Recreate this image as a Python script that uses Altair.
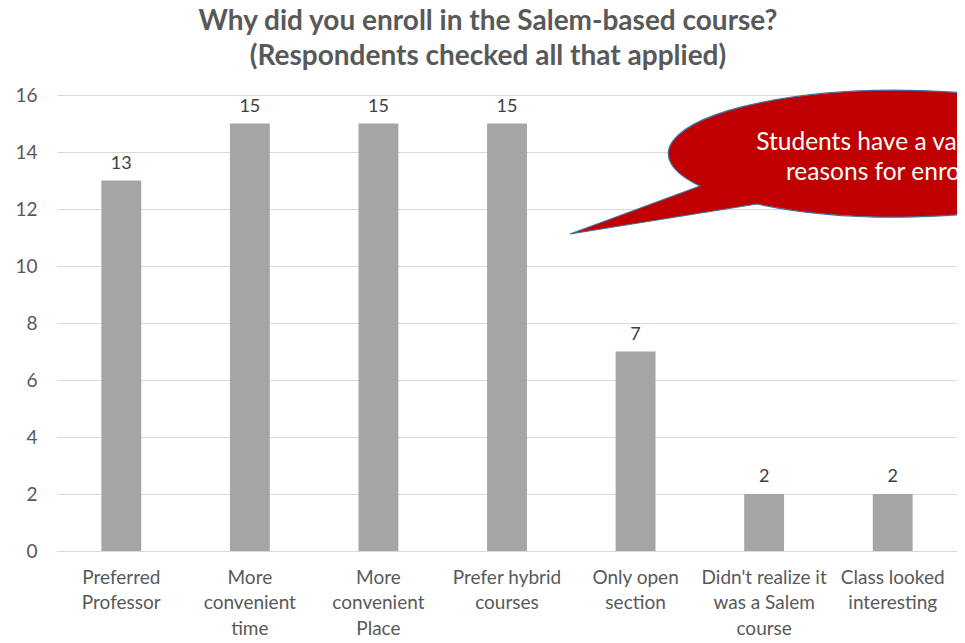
import altair as alt
import pandas as pd

categories = [
    "Preferred\nProfessor",
    "More\nconvenient\ntime",
    "More\nconvenient\nPlace",
    "Prefer hybrid\ncourses",
    "Only open\nsection",
    "Didn't realize it\nwas a Salem\ncourse",
    "Class looked\ninteresting",
]
counts = [13, 15, 15, 15, 7, 2, 2]
title_lines = ["Why did you enroll in the Salem-based course?", "(Respondents checked all that applied)"]
callout_lines = ["Students have a variety of", "reasons for enrolling"]
y_ticks = [0, 2, 4, 6, 8, 10, 12, 14, 16]

df = pd.DataFrame({"reason": categories, "count": counts})

W, H = 900, 456
FONT = "Lato"

x_scale = alt.Scale(paddingInner=0.69, paddingOuter=0.345)
y_scale = alt.Scale(domain=[0, 16], nice=False)

x_enc = alt.X(
    "reason:N",
    sort=categories,
    scale=x_scale,
    axis=alt.Axis(
        title=None,
        labelAngle=0,
        labelExpr="split(datum.label, '\\n')",
        labelFont=FONT,
        labelFontSize=19,
        labelColor="#595959",
        labelLineHeight=25.5,
        labelPadding=17,
        labelBaseline="top",
        ticks=False,
        domain=True,
        domainColor="#D9D9D9",
        domainWidth=1,
        grid=False,
    ),
)
y_enc = alt.Y(
    "count:Q",
    scale=y_scale,
    axis=alt.Axis(
        title=None,
        values=y_ticks,
        labelFont=FONT,
        labelFontSize=19,
        labelColor="#595959",
        labelPadding=20,
        ticks=False,
        domain=False,
        grid=True,
        gridColor="#D9D9D9",
        gridWidth=1,
    ),
)

base = alt.Chart(df)
bars = base.mark_bar(color="#A5A5A5").encode(x=x_enc, y=y_enc)
labels = base.mark_text(
    font=FONT, fontSize=18, color="#404040", baseline="alphabetic", dy=-12
).encode(x=x_enc, y=y_enc, text="count:Q")

# speech-bubble callout (annotation), path in pixels relative to its centre
bubble_path = (
    "M -195 32.5 L -325 80.5 L -138 50.5 "
    "A 227 63.5 0 1 0 -195 32.5 Z"
)
bubble = alt.Chart(pd.DataFrame({"k": [0]})).mark_point(
    shape=bubble_path, size=4, filled=True, fill="#C00000", opacity=1,
    stroke="#41719C", strokeWidth=1.2, strokeOpacity=1, fillOpacity=1,
).encode(x=alt.value(838), y=alt.value(58.5))
bubble_text = alt.Chart(pd.DataFrame({"k": [0]})).mark_text(
    font=FONT, fontSize=24.5, color="white", align="center", baseline="middle",
    lineHeight=30,
).encode(x=alt.value(838), y=alt.value(48), text=alt.value(callout_lines))

chart = (
    alt.layer(bars, labels, bubble, bubble_text)
    .properties(
        width=W,
        height=H,
        background="white",
        autosize=alt.AutoSizeParams(type="none"),
        padding={"left": 49, "top": 87, "right": 0, "bottom": 92},
        title=alt.TitleParams(
            text=title_lines,
            font=FONT,
            fontSize=28,
            fontWeight="bold",
            color="#595959",
            lineHeight=35,
            anchor="middle",
            dx=-19,
            offset=15,
        ),
    )
    .configure_view(strokeWidth=0, stroke="transparent")
)

chart.save("out.html", embed_options={"renderer": "svg", "actions": False})
